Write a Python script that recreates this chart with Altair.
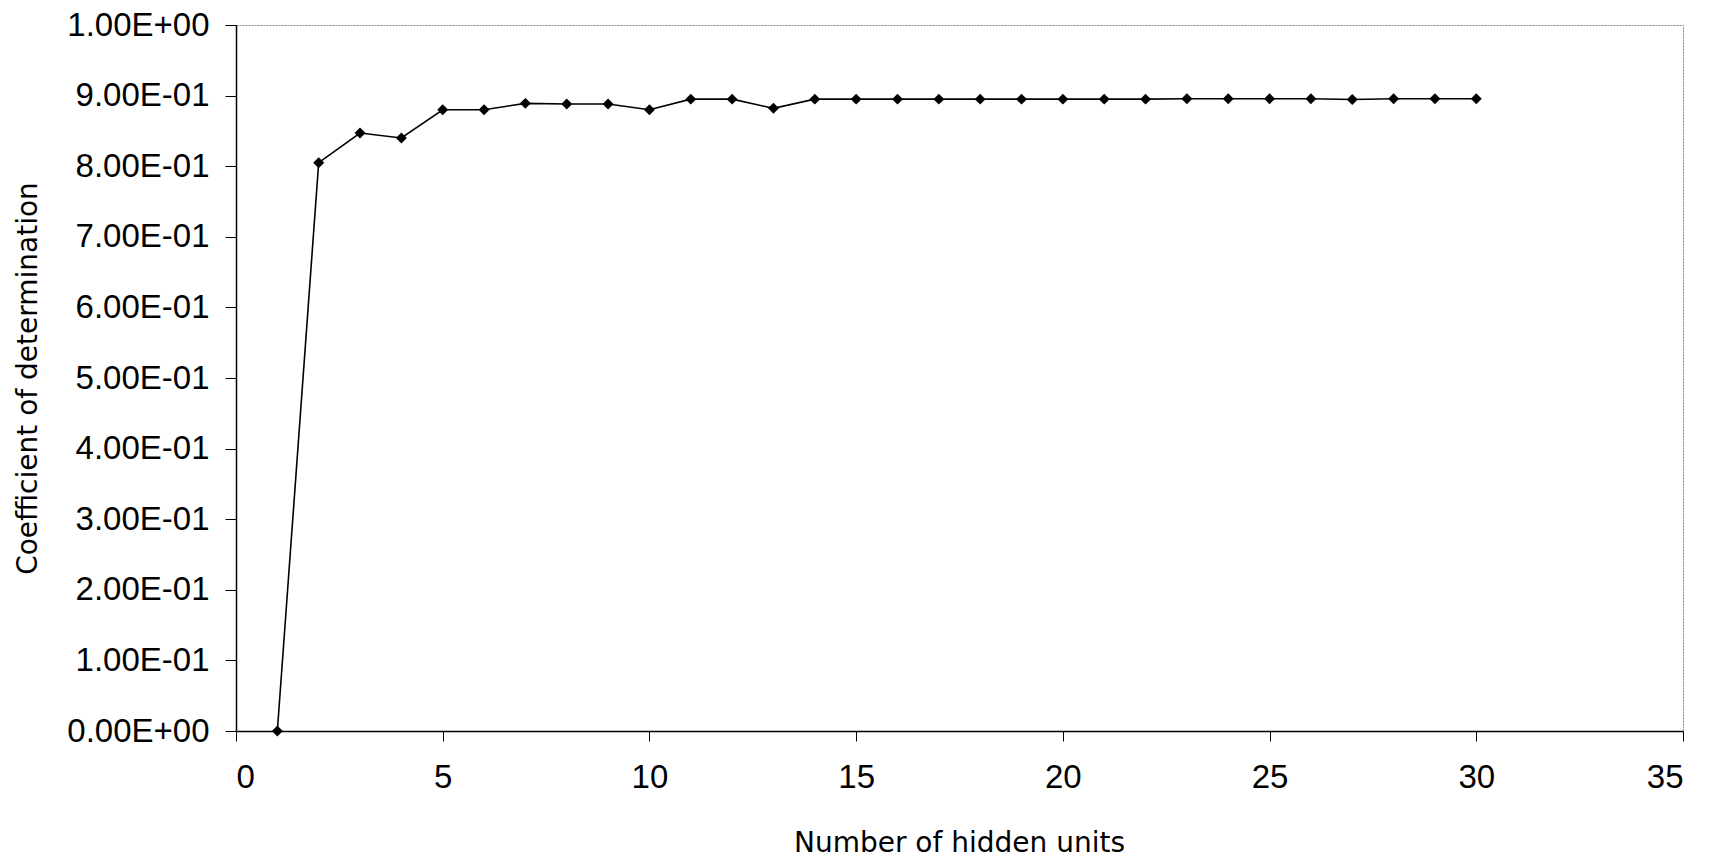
import altair as alt
import pandas as pd

hidden_units = list(range(1, 31))
r2 = [0.0, 0.805, 0.847, 0.840, 0.880, 0.880, 0.889, 0.888, 0.888, 0.880,
      0.895, 0.895, 0.882, 0.895, 0.895, 0.895, 0.895, 0.895, 0.895, 0.895,
      0.895, 0.895, 0.8955, 0.8955, 0.8955, 0.8955, 0.8945, 0.8955, 0.8955, 0.8955]

y_tick_values = [0.0, 0.1, 0.2, 0.3, 0.4, 0.5, 0.6, 0.7, 0.8, 0.9, 1.0]
y_tick_labels = ["0.00E+00", "1.00E-01", "2.00E-01", "3.00E-01", "4.00E-01", "5.00E-01",
                 "6.00E-01", "7.00E-01", "8.00E-01", "9.00E-01", "1.00E+00"]
x_tick_values = [0, 5, 10, 15, 20, 25, 30, 35]

df = pd.DataFrame({"units": hidden_units, "r2": r2})

expr = "''"
for v, lab in reversed(list(zip(y_tick_values, y_tick_labels))):
    expr = f"(round(datum.value*10) == {round(v*10)} ? '{lab}' : {expr})"

tick_font = "Liberation Sans"
title_font = "DejaVu Sans"

x_enc = alt.X("units:Q",
              scale=alt.Scale(domain=[0, 35], nice=False, zero=True),
              axis=alt.Axis(values=x_tick_values, title="Number of hidden units",
                            grid=False, domainColor="black", domainWidth=1.5,
                            tickColor="black", tickWidth=1, tickSize=10,
                            labelFont=tick_font, labelFontSize=33, labelColor="black",
                            labelPadding=20, titleFont=title_font, titleFontSize=28,
                            titleFontWeight="normal", titleColor="black",
                            titleX=723, titleY=112, titleBaseline="middle",
                            titleAlign="center"))
y_enc = alt.Y("r2:Q",
              scale=alt.Scale(domain=[0, 1], nice=False),
              axis=alt.Axis(values=y_tick_values, labelExpr=expr,
                            title="Coefficient of determination",
                            grid=False, domainColor="black", domainWidth=1.5,
                            tickColor="black", tickWidth=1, tickSize=11,
                            labelFont=tick_font, labelFontSize=33, labelColor="black",
                            labelPadding=16, titleFont=title_font, titleFontSize=28,
                            titleFontWeight="normal", titleColor="black",
                            titleAngle=-90, titleX=-208, titleY=353,
                            titleBaseline="middle", titleAlign="center"))

line = alt.Chart(df).mark_line(color="black", strokeWidth=1.6).encode(x=x_enc, y=y_enc)
pts = alt.Chart(df).mark_point(shape="diamond", filled=True, color="black",
                               size=120, opacity=1).encode(x="units:Q", y="r2:Q")

chart = (line + pts).properties(
    width=1447, height=706,
    autosize=alt.AutoSizeParams(type="none"),
    padding={"left": 236, "top": 25, "right": 30, "bottom": 131},
    background="white",
).configure_view(stroke="#888888", strokeWidth=1, strokeDash=[2, 1])

chart.save("out.html", embed_options={"renderer": "svg", "actions": False})
